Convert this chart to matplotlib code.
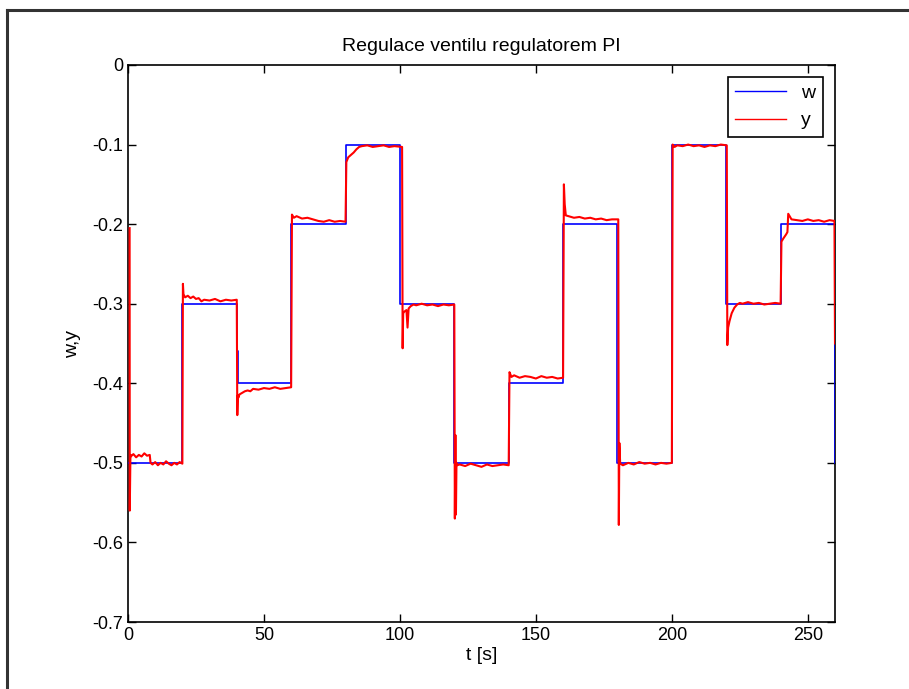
import matplotlib
matplotlib.use("Agg")
import matplotlib.pyplot as plt
from matplotlib.lines import Line2D

plt.rcParams['font.family'] = ['Liberation Sans Narrow', 'Liberation Sans', 'DejaVu Sans']

# setpoint w: value held from each switching time
w_t = [0, 20, 40, 40.3, 60, 80, 100, 120, 140, 160, 180, 200, 220, 240, 260]
w_v = [-0.5, -0.3, -0.36, -0.4, -0.2, -0.1, -0.3, -0.5, -0.4, -0.2, -0.5, -0.1, -0.3, -0.2, -0.5]

y_t = [0.6, 0.65, 0.9, 1, 2, 3, 4, 5, 6, 7, 8, 8.3, 9, 10, 11, 12, 13, 14, 15, 16, 17, 18, 19, 20,
       20.2, 20.4, 21, 22, 23, 24, 25, 26, 27, 28, 30, 32, 34, 36, 38, 40,
       40.2, 40.4, 40.6, 41, 42, 43, 44, 45, 46, 48, 50, 52, 54, 56, 58, 60,
       60.3, 61, 62, 64, 66, 68, 70, 72, 74, 76, 78, 80,
       80.3, 81, 82, 83, 84, 85, 86, 88, 90, 92, 94, 96, 98, 100.8,
       101, 101.2, 101.6, 102.4, 102.8, 103.2, 104, 105, 106, 108, 110, 112, 114, 116, 118, 120,
       120.2, 120.4, 120.6, 120.8, 121, 122, 124, 126, 128, 130, 132, 134, 136, 138, 140,
       140.3, 141, 142, 144, 146, 148, 150, 152, 154, 156, 158, 160,
       160.3, 160.6, 161, 162, 164, 166, 168, 170, 172, 174, 176, 178, 180.3,
       180.5, 180.7, 181, 182, 184, 186, 188, 190, 192, 194, 196, 198, 200,
       200.3, 201, 202, 204, 206, 208, 210, 212, 214, 216, 218, 220.2,
       220.4, 220.7, 221.2, 222, 223, 224, 225, 226, 228, 230, 232, 234, 236, 238, 240,
       240.3, 241, 242, 242.5, 242.8, 243.5, 244, 246, 248, 250, 252, 254, 256, 258, 259.8, 260]
y_v = [-0.205, -0.56, -0.49, -0.492, -0.489, -0.493, -0.490, -0.492, -0.488, -0.491, -0.490, -0.500,
       -0.502, -0.499, -0.503, -0.500, -0.502, -0.498, -0.501, -0.503, -0.500, -0.502, -0.499, -0.501,
       -0.275, -0.288, -0.292, -0.290, -0.293, -0.291, -0.294, -0.293, -0.297, -0.295, -0.296, -0.294,
       -0.297, -0.295, -0.296, -0.295,
       -0.44, -0.415, -0.418, -0.414, -0.412, -0.410, -0.409, -0.410, -0.407, -0.408, -0.406, -0.407,
       -0.405, -0.407, -0.406, -0.405,
       -0.188, -0.192, -0.190, -0.193, -0.192, -0.194, -0.196, -0.197, -0.195, -0.197, -0.196, -0.197,
       -0.122, -0.116, -0.113, -0.110, -0.106, -0.103, -0.102, -0.101, -0.103, -0.102, -0.101, -0.103,
       -0.102, -0.103,
       -0.356, -0.312, -0.31, -0.308, -0.33, -0.306, -0.303, -0.301, -0.302, -0.300, -0.302, -0.301,
       -0.303, -0.301, -0.302, -0.301,
       -0.57, -0.465, -0.565, -0.50, -0.503, -0.502, -0.504, -0.501, -0.503, -0.505, -0.502, -0.504,
       -0.503, -0.502, -0.503,
       -0.386, -0.392, -0.390, -0.393, -0.391, -0.392, -0.394, -0.391, -0.393, -0.392, -0.394, -0.393,
       -0.150, -0.175, -0.189, -0.190, -0.192, -0.191, -0.193, -0.192, -0.194, -0.193, -0.195, -0.194,
       -0.194,
       -0.578, -0.475, -0.501, -0.503, -0.500, -0.502, -0.499, -0.501, -0.500, -0.502, -0.500, -0.501,
       -0.500,
       -0.100, -0.103, -0.101, -0.102, -0.100, -0.102, -0.101, -0.103, -0.101, -0.102, -0.100, -0.101,
       -0.352, -0.330, -0.322, -0.312, -0.305, -0.301, -0.299, -0.300, -0.298, -0.300, -0.299, -0.301,
       -0.300, -0.299, -0.300,
       -0.222, -0.218, -0.213, -0.210, -0.187, -0.191, -0.194, -0.195, -0.196, -0.194, -0.196, -0.195,
       -0.197, -0.195, -0.196, -0.35]

x_ticks = [0, 50, 100, 150, 200, 250]
y_ticks = [0, -0.1, -0.2, -0.3, -0.4, -0.5, -0.6, -0.7]
y_tick_labels = ['0', '-0.1', '-0.2', '-0.3', '-0.4', '-0.5', '-0.6', '-0.7']

fig = plt.figure(figsize=(9.09, 6.89), dpi=100)
ax = fig.add_axes([0.1408, 0.0972, 0.7778, 0.8085])

ax.step(w_t, w_v, where='post', color='#0000ff', linewidth=1.2, label='w', zorder=3)
ax.plot(y_t, y_v, color='#ff0000', linewidth=1.5, label='y', zorder=4)

ax.set_xlim(0, 260)
ax.set_ylim(-0.7, 0)
ax.set_xticks(x_ticks)
ax.set_yticks(y_ticks)
ax.set_yticklabels(y_tick_labels)
ax.tick_params(direction='in', top=True, right=True, length=6, labelsize=13, width=1)
for s in ax.spines.values():
    s.set_linewidth(1.2)

ax.set_title('Regulace ventilu regulatorem PI', fontsize=14, pad=10)
ax.set_xlabel('t [s]', fontsize=14, labelpad=2)
ax.set_ylabel('w,y', fontsize=14, labelpad=8)

leg = ax.legend(loc='upper right', fontsize=14, fancybox=False, framealpha=1,
                edgecolor='black', handlelength=2.6, borderaxespad=0.6)
leg.get_frame().set_linewidth(1.2)
leg.set_zorder(5)
for h in leg.get_lines():
    h.set_linewidth(1.0)

# outer frame of the figure window
fig.add_artist(Line2D([0.0077, 1.0], [0.9855, 0.9855], color='#333333', linewidth=2.2))
fig.add_artist(Line2D([0.0077, 0.0077], [0.0, 0.9855], color='#333333', linewidth=2.2))

fig.savefig('out.png', dpi=100)
